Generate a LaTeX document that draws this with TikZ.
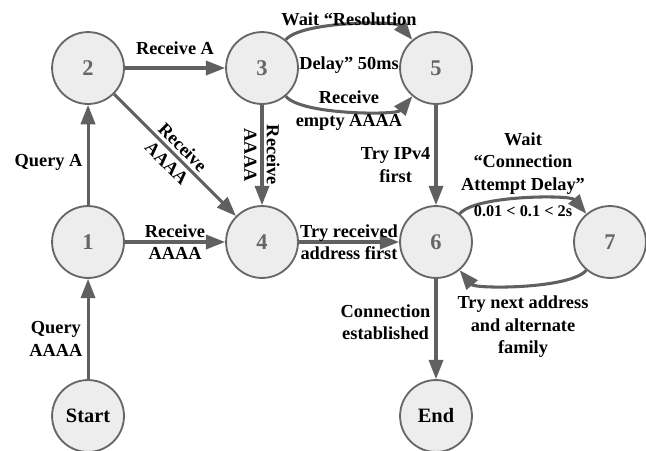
\documentclass[tikz,border=0pt]{standalone}
\usepackage{fontspec}
\setmainfont{Liberation Serif}
\usepackage{tikz}
\usetikzlibrary{shapes,arrows.meta}

\definecolor{edgegray}{HTML}{606060}
\definecolor{nodefill}{HTML}{EDEDED}
\definecolor{numgray}{HTML}{666666}

\begin{document}
\begin{tikzpicture}[x=3cm, y=3cm, font=\fontsize{9}{11}\selectfont\bfseries]% x=y=174px
%\draw[help lines] (0,-2) grid (3,0);
\tikzstyle{state}=[circle, draw=numgray, line width=.9pt, fill=nodefill, minimum size=1.24cm, inner sep=0pt, text=numgray, font=\fontsize{11}{13}\selectfont\bfseries]
\tikzstyle{terminal}=[state, text=black, font=\fontsize{10}{12}\selectfont\bfseries]
\tikzstyle{trans}=[draw=edgegray, line width=1.5pt, -{Triangle[length=9.5pt,width=7pt]}]
\tikzstyle{lbl}=[align=center, text=black, inner sep=2pt]

\useasboundingbox (-0.506,0.391) rectangle (3.207,-2.201);

% states
\node[terminal] (start) at (0,-2) {Start};
\node[state] (s1) at (0,-1) {1};
\node[state] (s2) at (0,0) {2};
\node[state] (s3) at (1,0) {3};
\node[state] (s4) at (1,-1) {4};
\node[state] (s5) at (2,0) {5};
\node[state] (s6) at (2,-1) {6};
\node[state] (s7) at (3,-1) {7};
\node[terminal] (e) at (2,-2) {End};

% queries
\draw[trans] (start) -- node[lbl, left, pos=.4] {Query\\AAAA} (s1);
\draw[trans] (s1) -- node[lbl, left, pos=.43] {Query A} (s2);

% answers
\draw[trans] (s2) -- node[lbl, above=4pt] {Receive A} (s3);
\draw[trans] (s1) -- node[lbl] {Receive\\AAAA} (s4);
\draw[trans] (s2) -- node[lbl, sloped] {Receive\\AAAA} (s4);
\draw[trans] (s3) -- node[lbl, rotate=-90] {Receive\\AAAA} (s4);
\draw[trans] (s3) to[bend left=50, looseness=.5] node[lbl, yshift=-8.5pt] {Wait “Resolution\\[10.5pt]Delay” 50ms} (s5);
\draw[trans] (s3) to[bend right=50, looseness=.5] node[lbl] {Receive\\empty AAAA} (s5);

% connection attempts
\draw[trans] (s4) -- node[lbl] {Try received\\address first} (s6);
\draw[trans] (s5) -- node[lbl, left, pos=.6] {Try IPv4\\first} (s6);
\draw[trans] (s6) to[bend left=50, looseness=.5]
	node[lbl, above] {Wait\\“Connection\\Attempt Delay”}
	node[lbl, below, font=\fontsize{8}{10}\selectfont\bfseries] {0.01 < 0.1 < 2s} (s7);
\draw[trans] (s7) to[bend left=50, looseness=.5] node[lbl, below=3pt] {Try next address\\and alternate\\family} (s6);
\draw[trans] (s6) -- node[lbl, left, pos=.43] {Connection\\established} (e);

\end{tikzpicture}
\end{document}
